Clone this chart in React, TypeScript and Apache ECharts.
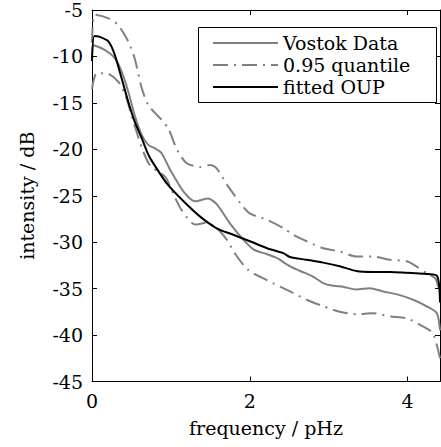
import React, { useEffect, useRef } from "react";
import * as echarts from "echarts";

// fitted OUP
const oupFreq = [0, 0.03, 0.1, 0.21, 0.29, 0.375, 0.46, 0.54, 0.63, 0.7, 0.74, 0.95, 1.16, 1.37, 1.58, 1.79, 2.0, 2.22, 2.43, 2.51, 2.72, 2.93, 3.14, 3.35, 3.56, 3.78, 3.99, 4.2, 4.37, 4.41];
const oupVals = [-10.5, -7.8, -7.9, -8.4, -9.85, -12.35, -14.9, -17.0, -18.8, -20.3, -21.0, -23.7, -25.6, -27.25, -28.5, -29.2, -29.9, -30.65, -31.2, -31.6, -31.9, -32.2, -32.6, -33.1, -33.2, -33.2, -33.3, -33.4, -33.6, -36.5];

// Vostok data
const vostokFreq = [0, 0.02, 0.16, 0.29, 0.375, 0.46, 0.54, 0.63, 0.71, 0.8, 0.88, 0.99, 1.16, 1.31, 1.47, 1.58, 1.75, 1.92, 2.05, 2.22, 2.34, 2.51, 2.64, 2.8, 2.93, 3.06, 3.18, 3.35, 3.52, 3.69, 3.9, 4.07, 4.24, 4.37, 4.41];
const vostokVals = [-10.5, -8.8, -9.3, -10.2, -11.6, -13.8, -16.3, -18.45, -19.5, -19.9, -20.4, -22.2, -24.55, -25.6, -25.3, -25.9, -28.0, -29.75, -30.8, -31.3, -31.7, -32.6, -33.1, -33.7, -34.4, -34.7, -34.8, -35.1, -34.95, -35.3, -35.7, -36.2, -36.9, -37.65, -39.5];

// 0.95 quantile, upper
const upperFreq = [0, 0.04, 0.21, 0.33, 0.46, 0.54, 0.63, 0.71, 0.8, 0.88, 0.97, 1.08, 1.2, 1.37, 1.5, 1.58, 1.71, 1.88, 2.0, 2.22, 2.43, 2.55, 2.72, 2.93, 3.14, 3.35, 3.56, 3.78, 3.99, 4.11, 4.24, 4.35, 4.41];
const upperVals = [-8.5, -5.5, -5.9, -6.6, -8.4, -10.2, -13.4, -15.2, -16.1, -16.8, -17.8, -20.1, -21.5, -21.9, -21.7, -22.05, -23.8, -25.8, -26.9, -27.6, -28.5, -29.2, -29.9, -30.65, -31.0, -31.55, -31.55, -31.9, -32.05, -32.6, -33.35, -33.9, -35.5];

// 0.95 quantile, lower
const lowerFreq = [0, 0.06, 0.18, 0.33, 0.42, 0.5, 0.59, 0.65, 0.74, 0.93, 1.03, 1.14, 1.31, 1.45, 1.58, 1.71, 1.81, 1.98, 2.22, 2.51, 2.72, 2.93, 3.14, 3.35, 3.56, 3.78, 3.99, 4.2, 4.32, 4.41];
const lowerVals = [-13.5, -11.8, -11.8, -12.7, -14.1, -16.3, -18.8, -20.25, -21.8, -23.0, -24.8, -26.6, -28.1, -27.9, -28.5, -29.75, -31.2, -33.0, -34.1, -35.3, -36.2, -36.9, -37.5, -37.75, -37.65, -38.0, -38.2, -39.1, -39.8, -42.5];

const xTicks = [0, 2, 4];
const legendNames = ["Vostok Data", "0.95 quantile", "fitted OUP"];

const pair = (xs: number[], ys: number[]) => xs.map((x, i) => [x, ys[i]]);

const FONT = "DejaVu Serif";
const GRAY = "#808080";
const DASHDOT = [15, 6, 2, 6];

export default function App() {
  const ref = useRef<HTMLDivElement>(null);
  useEffect(() => {
    if (!ref.current) return;
    const chart = echarts.init(ref.current, null, { renderer: "svg" });
    const axisCommon = {
      type: "value" as const,
      axisLine: { show: true, onZero: false, lineStyle: { color: "#000", width: 1 } },
      splitLine: { show: false },
    };
    chart.setOption({
      animation: false,
      backgroundColor: "#fff",
      grid: { left: 92, right: 1, top: 10, bottom: 65.5 },
      xAxis: [
        {
          ...axisCommon,
          position: "bottom",
          min: 0,
          max: 4.41,
          interval: 2,
          name: "frequency / pHz",
          nameLocation: "middle",
          nameGap: 37,
          nameTextStyle: { fontFamily: FONT, fontSize: 19, color: "#000" },
          axisTick: { inside: true, length: 5, customValues: xTicks, lineStyle: { color: "#000" } },
          axisLabel: { customValues: xTicks, fontFamily: FONT, fontSize: 19, color: "#000", margin: 10 },
        },
        {
          ...axisCommon,
          position: "top",
          min: 0,
          max: 4.41,
          interval: 2,
          axisTick: { inside: true, length: 5, customValues: xTicks, lineStyle: { color: "#000" } },
          axisLabel: { show: false },
        },
      ],
      yAxis: [
        {
          ...axisCommon,
          position: "left",
          min: -45,
          max: -5,
          interval: 5,
          name: "intensity / dB",
          nameLocation: "middle",
          nameGap: 56,
          nameTextStyle: { fontFamily: FONT, fontSize: 19, color: "#000" },
          axisTick: { inside: true, length: 5, lineStyle: { color: "#000" } },
          axisLabel: { fontFamily: FONT, fontSize: 19, color: "#000", margin: 9 },
        },
        {
          ...axisCommon,
          position: "right",
          min: -45,
          max: -5,
          interval: 5,
          axisTick: { inside: true, length: 5, lineStyle: { color: "#000" } },
          axisLabel: { show: false },
        },
      ],
      legend: {
        data: legendNames,
        orient: "vertical",
        left: 212,
        top: 32,
        padding: 0,
        itemWidth: 65,
        itemHeight: 14,
        itemGap: 0,
        z: 10,
        itemStyle: { opacity: 0 },
        textStyle: { fontFamily: FONT, fontSize: 19, color: "#000", lineHeight: 22 },
      },
      graphic: [
        {
          type: "rect",
          z: 5,
          shape: { x: 198.5, y: 27.5, width: 238, height: 75 },
          style: { fill: "#fff", stroke: "#000", lineWidth: 1 },
        },
      ],
      series: [
        {
          name: "Vostok Data",
          type: "line",
          data: pair(vostokFreq, vostokVals),
          symbol: "none",
          smooth: 0.25,
          lineStyle: { color: GRAY, width: 2, type: "solid" },
          itemStyle: { color: GRAY },
        },
        {
          name: "0.95 quantile",
          type: "line",
          data: pair(upperFreq, upperVals),
          symbol: "none",
          smooth: 0.25,
          lineStyle: { color: GRAY, width: 2, type: DASHDOT },
          itemStyle: { color: GRAY },
        },
        {
          name: "0.95 quantile",
          type: "line",
          data: pair(lowerFreq, lowerVals),
          symbol: "none",
          smooth: 0.25,
          lineStyle: { color: GRAY, width: 2, type: DASHDOT },
          itemStyle: { color: GRAY },
        },
        {
          name: "fitted OUP",
          type: "line",
          data: pair(oupFreq, oupVals),
          symbol: "none",
          smooth: 0.25,
          lineStyle: { color: "#000", width: 2, type: "solid" },
          itemStyle: { color: "#000" },
        },
      ],
    });
    return () => chart.dispose();
  }, []);
  return (
    <div
      ref={ref}
      style={{ position: "fixed", left: 0, top: 0, width: 441, height: 447, background: "#fff" }}
    />
  );
}
